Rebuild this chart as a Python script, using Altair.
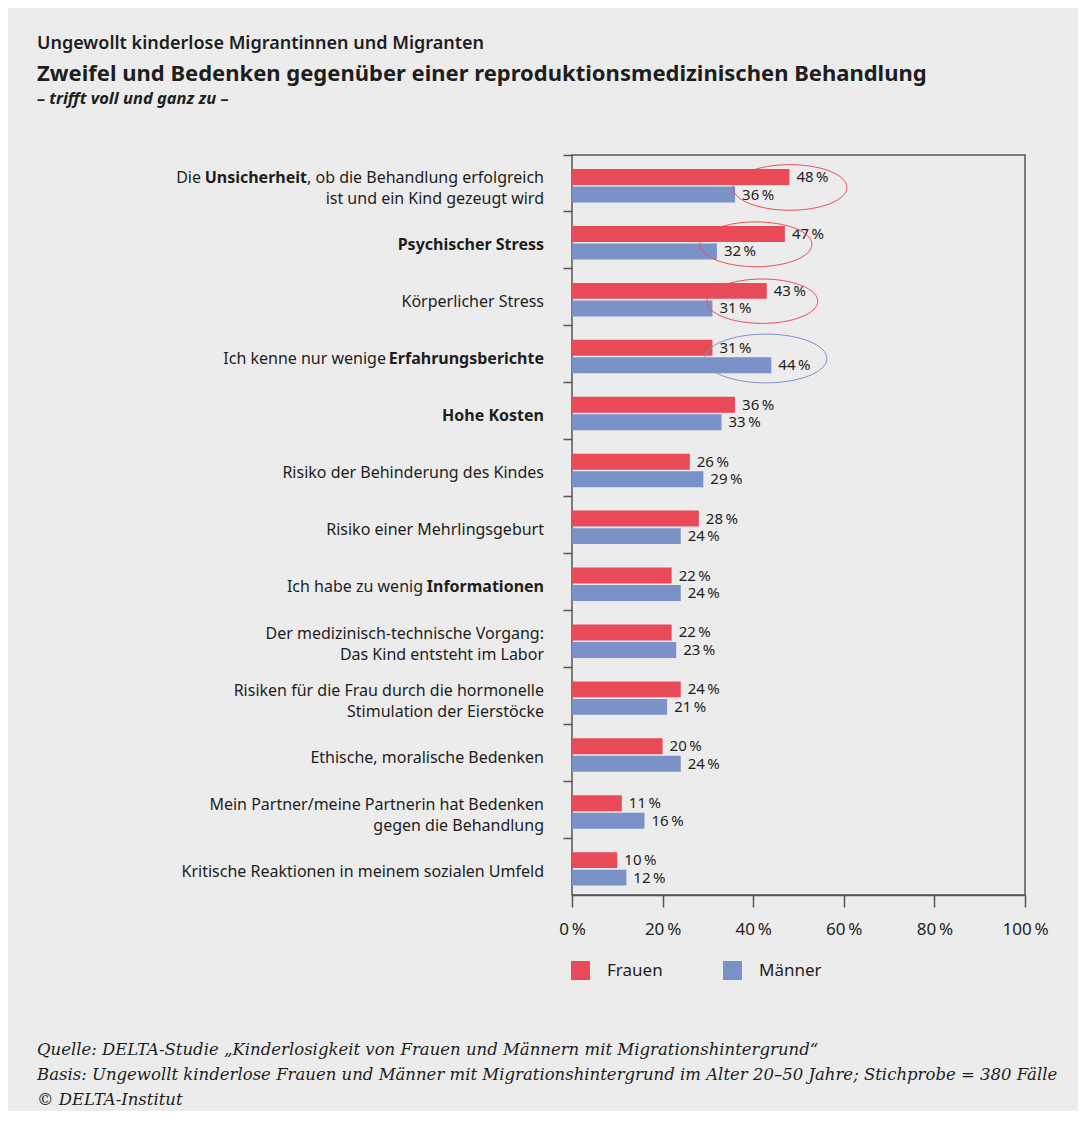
import altair as alt
import pandas as pd

# ---------------- data ----------------
categories = [
    "Die Unsicherheit, ob die Behandlung erfolgreich ist und ein Kind gezeugt wird",
    "Psychischer Stress",
    "Körperlicher Stress",
    "Ich kenne nur wenige Erfahrungsberichte",
    "Hohe Kosten",
    "Risiko der Behinderung des Kindes",
    "Risiko einer Mehrlingsgeburt",
    "Ich habe zu wenig Informationen",
    "Der medizinisch-technische Vorgang: Das Kind entsteht im Labor",
    "Risiken für die Frau durch die hormonelle Stimulation der Eierstöcke",
    "Ethische, moralische Bedenken",
    "Mein Partner/meine Partnerin hat Bedenken gegen die Behandlung",
    "Kritische Reaktionen in meinem sozialen Umfeld",
]
frauen = [48, 47, 43, 31, 36, 26, 28, 22, 22, 24, 20, 11, 10]
maenner = [36, 32, 31, 44, 33, 29, 24, 24, 23, 21, 24, 16, 12]
series = ["Frauen", "Männer"]
colors = ["#e84a57", "#7a92c8"]

x_ticks = [0, 20, 40, 60, 80, 100]

# highlighted groups (category index, centre in %, width px, colour)
ellipse_cat = [0, 1, 2, 3]
ellipse_cx = [48.1, 40.6, 42.0, 42.8]
ellipse_w = [114, 112, 111, 122]
ellipse_col = ["#e8505a", "#e8505a", "#e8505a", "#7b93c9"]

# label segments: (category index, line, text, bold, offset from right edge)
label_segments = [
    (0, "l1", ", ob die Behandlung erfolgreich", False, 0),
    (0, "l1", "Unsicherheit", True, 237),
    (0, "l1", "Die", False, 343),
    (0, "l2", "ist und ein Kind gezeugt wird", False, 0),
    (1, "single", "Psychischer Stress", True, 0),
    (2, "single", "Körperlicher Stress", False, 0),
    (3, "single", "Erfahrungsberichte", True, 0),
    (3, "single", "Ich kenne nur wenige", False, 158),
    (4, "single", "Hohe Kosten", True, 0),
    (5, "single", "Risiko der Behinderung des Kindes", False, 0),
    (6, "single", "Risiko einer Mehrlingsgeburt", False, 0),
    (7, "single", "Informationen", True, 0),
    (7, "single", "Ich habe zu wenig", False, 121),
    (8, "l1", "Der medizinisch-technische Vorgang:", False, 0),
    (8, "l2", "Das Kind entsteht im Labor", False, 0),
    (9, "l1", "Risiken für die Frau durch die hormonelle", False, 0),
    (9, "l2", "Stimulation der Eierstöcke", False, 0),
    (10, "single", "Ethische, moralische Bedenken", False, 0),
    (11, "l1", "Mein Partner/meine Partnerin hat Bedenken", False, 0),
    (11, "l2", "gegen die Behandlung", False, 0),
    (12, "single", "Kritische Reaktionen in meinem sozialen Umfeld", False, 0),
]

title_small = "Ungewollt kinderlose Migrantinnen und Migranten"
title_main = "Zweifel und Bedenken gegenüber einer reproduktionsmedizinischen Behandlung"
title_sub = "– trifft voll und ganz zu –"
footer_lines = [
    "Quelle: DELTA-Studie „Kinderlosigkeit von Frauen und Männern mit Migrationshintergrund“",
    "Basis: Ungewollt kinderlose Frauen und Männer mit Migrationshintergrund im Alter 20–50 Jahre; Stichprobe = 380 Fälle",
    "© DELTA-Institut",
]

FONT = "Noto Sans"
TXT = "#1e1e1e"
AX = "#555555"

# ---------------- tables ----------------
rows = []
for c, f, m in zip(categories, frauen, maenner):
    rows.append({"cat": c, "sex": series[0], "value": f})
    rows.append({"cat": c, "sex": series[1], "value": m})
df = pd.DataFrame(rows)

ell_df = pd.DataFrame({
    "cat": [categories[i] for i in ellipse_cat],
    "cx": ellipse_cx,
    "s": [w * w for w in ellipse_w],
    "col": ellipse_col,
})

seg_df = pd.DataFrame(
    [{"cat": categories[i], "line": ln, "text": t, "bold": b, "off": o}
     for i, ln, t, b, o in label_segments]
)

y_scale = alt.Scale(domain=categories, paddingInner=0, paddingOuter=0)
y_enc = alt.Y(
    "cat:N", sort=categories, scale=y_scale,
    axis=alt.Axis(labels=False, title=None, domain=False, ticks=True, tickSize=9,
                  tickColor=AX, tickWidth=1.5, bandPosition=0, grid=False),
)
yoff_enc = alt.YOffset("sex:N", sort=series,
                       scale=alt.Scale(domain=series, paddingInner=0.09,
                                       paddingOuter=0.67, align=0.6))
x_enc = alt.X(
    "value:Q", scale=alt.Scale(domain=[0, 100]),
    axis=alt.Axis(values=x_ticks, labelExpr="datum.value + '\u2009%'", title=None,
                  grid=False, domainColor=AX, domainWidth=1.5, tickColor=AX, tickWidth=1.5,
                  tickSize=12, labelFontSize=17, labelFont=FONT, labelColor=TXT,
                  labelPadding=14, labelFlush=False),
)

bars = alt.Chart(df).mark_bar().encode(
    x=x_enc,
    y=y_enc,
    yOffset=yoff_enc,
    color=alt.Color(
        "sex:N", scale=alt.Scale(domain=series, range=colors),
        legend=alt.Legend(title=None, orient="none", legendX=-1, legendY=806,
                          direction="horizontal", symbolType="square", symbolSize=361,
                          symbolStrokeWidth=0, labelFontSize=17, labelFont=FONT,
                          labelColor=TXT, labelOffset=17, columnPadding=60, padding=0),
    ),
)

values = alt.Chart(df).transform_calculate(
    label="datum.value + '\u2009%'"
).mark_text(align="left", baseline="middle", dx=7, fontSize=15, font=FONT, color=TXT).encode(
    x=alt.X("value:Q"),
    y=alt.Y("cat:N", sort=categories),
    yOffset=alt.YOffset("sex:N", sort=series),
    text="label:N",
)

ellipse_path = "M -1 0.07 A 1 0.4 0 1 0 1 0.07 A 1 0.4 0 1 0 -1 0.07 Z"
ellipses = alt.Chart(ell_df).mark_point(
    shape=ellipse_path, filled=False, strokeWidth=1, opacity=1
).encode(
    x=alt.X("cx:Q"),
    y=alt.Y("cat:N", sort=categories),
    size=alt.Size("s:Q", scale=None),
    stroke=alt.Stroke("col:N", scale=None),
)

line_dy = {"single": 5, "l1": -5, "l2": 16}
label_layers = []
for (ln, b, o), sub in seg_df.groupby(["line", "bold", "off"]):
    label_layers.append(
        alt.Chart(sub).mark_text(
            align="right", baseline="middle", dy=line_dy[ln], dx=-float(o),
            fontSize=16, font=FONT, color=TXT, fontWeight="bold" if b else "normal",
        ).encode(
            x=alt.value(-28),
            y=alt.Y("cat:N", sort=categories),
            text="text:N",
        )
    )

def free_text(txt, y, size, weight="normal", style="normal", font=FONT):
    return alt.Chart(pd.DataFrame({"t": [txt]})).mark_text(
        align="left", baseline="middle", fontSize=size, fontWeight=weight,
        fontStyle=style, font=font, color=TXT,
    ).encode(x=alt.value(-535), y=alt.value(y), text="t:N")

text_layers = [
    free_text(title_small, -111, 18, weight=600),
    free_text(title_main, -81, 22, weight="bold"),
    free_text(title_sub, -56, 16.5, weight="bold", style="italic"),
]
for i, line in enumerate(footer_lines):
    text_layers.append(free_text(line, 895 + 25 * i, 16.5, style="italic", font="DejaVu Serif"))

chart = alt.layer(bars, values, ellipses, *label_layers, *text_layers).properties(
    width=453,
    height=740,
    padding={"left": 564, "top": 147, "right": 53, "bottom": 216},
    autosize=alt.AutoSizeParams(type="none"),
    background="#ececec",
).configure_view(stroke=AX, strokeWidth=1.5)

chart.save("out.html", embed_options={"renderer": "svg", "actions": False})
